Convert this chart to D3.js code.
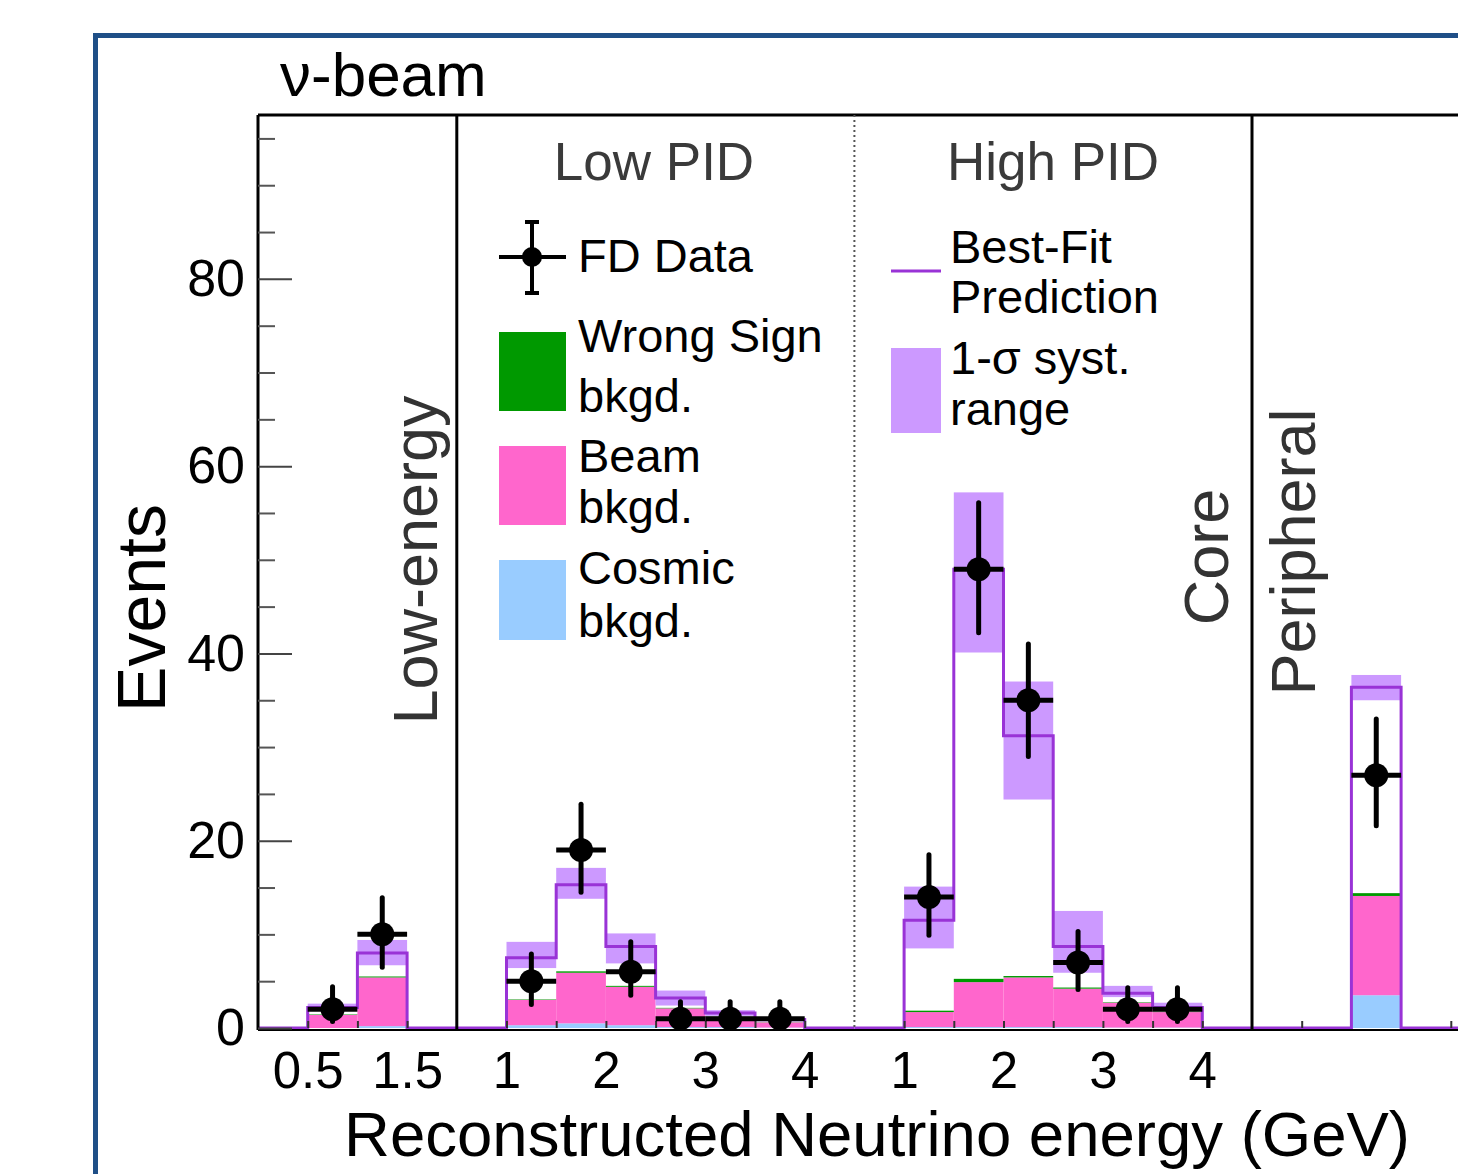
<!DOCTYPE html>
<html>
<head>
<meta charset="utf-8">
<script src="https://cdn.jsdelivr.net/npm/d3@7"></script>
<style>
  body { margin: 0; background: #fff; }
  svg { display: block; font-family: "Liberation Sans", Arial, Helvetica, sans-serif; }
</style>
</head>
<body>
<svg id="chart" width="1458" height="1174"></svg>
<script>
// ---- data (events per bin) ----

// Low-energy panel, bins in GeV
const leEdges = [0.5, 1.0, 1.5];
const leData = [2, 10];
const leErrHi = [2.4, 3.9];
const leErrLo = [1.3, 3.5];
const lePred = [2.2, 8.0];
const leBandHi = [2.6, 9.4];
const leBandLo = [1.9, 6.7];
const leCosmic = [0.0, 0.2];
const leBeam = [1.4, 5.2];
const leWrongSign = [0.05, 0.1];

// Core, low PID
const lowEdges = [1.0, 1.5, 2.0, 2.5, 3.0, 3.5, 4.0];
const lowData = [5, 19, 6, 1, 1, 1];
const lowErrHi = [2.9, 4.9, 3.2, 1.8, 1.8, 1.8];
const lowErrLo = [2.5, 4.5, 2.5, 0.85, 0.85, 0.85];
const lowPred = [7.5, 15.3, 8.7, 3.2, 1.6, 0.9];
const lowBandHi = [9.2, 17.1, 10.1, 4.0, 1.9, 1.1];
const lowBandLo = [6.4, 13.8, 6.9, 2.4, 1.3, 0.7];
const lowCosmic = [0.3, 0.5, 0.3, 0.1, 0.1, 0.05];
const lowBeam = [2.7, 5.4, 4.1, 2.0, 1.1, 0.55];
const lowWrongSign = [0.05, 0.15, 0.1, 0.05, 0.03, 0.02];

// Core, high PID
const highEdges = [1.0, 1.5, 2.0, 2.5, 3.0, 3.5, 4.0];
const highData = [14, 49, 35, 7, 2, 2];
const highErrHi = [4.5, 7.1, 6.0, 3.3, 2.3, 2.3];
const highErrLo = [4.1, 6.8, 6.0, 2.9, 1.3, 1.3];
const highPred = [11.5, 49.0, 31.2, 8.7, 3.7, 2.2];
const highBandHi = [15.1, 57.2, 37.0, 12.5, 4.5, 2.7];
const highBandLo = [8.5, 40.1, 24.4, 5.9, 3.3, 1.9];
const highCosmic = [0.1, 0.1, 0.1, 0.1, 0.05, 0.05];
const highBeam = [1.6, 4.8, 5.3, 4.1, 2.65, 1.65];
const highWrongSign = [0.15, 0.35, 0.15, 0.12, 0.05, 0.03];

// Peripheral, single bin
const periEdges = [1.0, 1.5];
const periData = [27];
const periErrHi = [6.0];
const periErrLo = [5.4];
const periPred = [36.4];
const periBandHi = [37.7];
const periBandLo = [35.0];
const periCosmic = [3.5];
const periBeam = [10.6];
const periWrongSign = [0.3];

// axis ticks / labels
const yMajor = [0, 20, 40, 60, 80];
const yMinor = d3.range(0, 96, 5);
const leTicks = [0.5, 1.0, 1.5];
const leLabels = [0.5, 1.5];
const pidTicks = [1.0, 1.5, 2.0, 2.5, 3.0, 3.5, 4.0];
const pidLabels = [1, 2, 3, 4];
const periTicks = [0.5, 2.0];

const colors = {
  cosmic: '#99ccff',
  beam: '#ff66cc',
  wrong: '#009900',
  band: '#cc99ff',
  pred: '#9933d6',
  frame: '#1f4f87'
};

const svg = d3.select('#chart');
svg.append('rect').attr('width', 1458).attr('height', 1174).attr('fill', '#fff');

// outer blue frame
svg.append('rect')
  .attr('x', 95.5).attr('y', 35.5)
  .attr('width', 1500).attr('height', 1300)
  .attr('fill', 'none')
  .attr('stroke', colors.frame)
  .attr('stroke-width', 5);

// global horizontal scale: panels laid side by side
const x = d3.scaleLinear().domain([0, 12]).range([258, 258 + 12 * 99.4]);
const y = d3.scaleLinear().domain([0, 97.5]).range([1028, 115]);

const panels = [
  { offset: 0, start: 0, end: 2, edges: leEdges, data: leData, errHi: leErrHi, errLo: leErrLo,
    pred: lePred, bandHi: leBandHi, bandLo: leBandLo, cosmic: leCosmic, beam: leBeam, wrong: leWrongSign,
    ticks: leTicks, labels: leLabels },
  { offset: 1.5, start: 2, end: 6, edges: lowEdges, data: lowData, errHi: lowErrHi, errLo: lowErrLo,
    pred: lowPred, bandHi: lowBandHi, bandLo: lowBandLo, cosmic: lowCosmic, beam: lowBeam, wrong: lowWrongSign,
    ticks: pidTicks, labels: pidLabels },
  { offset: 5.5, start: 6, end: 10, edges: highEdges, data: highData, errHi: highErrHi, errLo: highErrLo,
    pred: highPred, bandHi: highBandHi, bandLo: highBandLo, cosmic: highCosmic, beam: highBeam, wrong: highWrongSign,
    ticks: pidTicks, labels: pidLabels },
  { offset: 10, start: 10, end: 12.6, edges: periEdges, data: periData, errHi: periErrHi, errLo: periErrLo,
    pred: periPred, bandHi: periBandHi, bandLo: periBandLo, cosmic: periCosmic, beam: periBeam, wrong: periWrongSign,
    ticks: periTicks, labels: [] }
];

const plot = svg.append('g');

panels.forEach(p => {
  const px = e => x(e + p.offset);
  const bins = p.data.map((d, i) => ({
    x0: px(p.edges[i]), x1: px(p.edges[i + 1]),
    c: p.cosmic[i], b: p.beam[i], w: p.wrong[i],
    pred: p.pred[i], hi: p.bandHi[i], lo: p.bandLo[i],
    data: d, eh: p.errHi[i], el: p.errLo[i]
  }));

  // stacked backgrounds
  const g = plot.append('g');
  g.selectAll('.cos').data(bins).enter().append('rect')
    .attr('x', d => d.x0).attr('width', d => d.x1 - d.x0)
    .attr('y', d => y(d.c)).attr('height', d => y(0) - y(d.c))
    .attr('fill', colors.cosmic);
  g.selectAll('.beam').data(bins).enter().append('rect')
    .attr('x', d => d.x0).attr('width', d => d.x1 - d.x0)
    .attr('y', d => y(d.c + d.b)).attr('height', d => y(d.c) - y(d.c + d.b))
    .attr('fill', colors.beam);
  g.selectAll('.ws').data(bins).enter().append('rect')
    .attr('x', d => d.x0).attr('width', d => d.x1 - d.x0)
    .attr('y', d => y(d.c + d.b + d.w)).attr('height', d => y(d.c + d.b) - y(d.c + d.b + d.w))
    .attr('fill', colors.wrong);

  // 1-sigma band
  g.selectAll('.band').data(bins).enter().append('rect')
    .attr('x', d => d.x0).attr('width', d => d.x1 - d.x0)
    .attr('y', d => y(d.hi)).attr('height', d => y(d.lo) - y(d.hi))
    .attr('fill', colors.band);

  // best-fit step outline
  const pts = [[p.start, 0]];
  p.edges.slice(0, -1).forEach((e, i) => pts.push([e + p.offset, p.pred[i]]));
  pts.push([p.edges[p.edges.length - 1] + p.offset, 0]);
  pts.push([p.end, 0]);
  g.append('path')
    .datum(pts)
    .attr('d', d3.line().x(d => x(d[0])).y(d => y(d[1])).curve(d3.curveStepAfter))
    .attr('fill', 'none')
    .attr('stroke', colors.pred)
    .attr('stroke-width', 3);

  p.bins = bins;
});

// frame lines
const frame = svg.append('g').attr('stroke', '#000').attr('stroke-width', 3).attr('fill', 'none');
frame.append('line').attr('x1', 258).attr('x2', 1460).attr('y1', 115).attr('y2', 115);
frame.append('line').attr('x1', 258).attr('x2', 258).attr('y1', 115).attr('y2', 1030);
frame.append('line').attr('x1', 258).attr('x2', 1460).attr('y1', 1030).attr('y2', 1030).attr('stroke-width', 2);
[2, 10].forEach(u => {
  frame.append('line').attr('x1', x(u)).attr('x2', x(u)).attr('y1', 115).attr('y2', 1030);
});
svg.append('line')
  .attr('x1', x(6)).attr('x2', x(6)).attr('y1', 115).attr('y2', 1028)
  .attr('stroke', '#555').attr('stroke-width', 2).attr('stroke-dasharray', '2,3');

// y axis
const yAxis = svg.append('g').attr('transform', 'translate(258,0)')
  .call(d3.axisLeft(y).tickValues(yMajor).tickSize(-34).tickPadding(13).tickFormat(d3.format('d')));
yAxis.select('.domain').remove();
yAxis.selectAll('line').attr('stroke', '#444').attr('stroke-width', 2);
yAxis.selectAll('text').attr('font-size', 52).attr('fill', '#000');
const yMinorAxis = svg.append('g').attr('transform', 'translate(258,0)')
  .call(d3.axisLeft(y).tickValues(yMinor.filter(v => !yMajor.includes(v))).tickSize(-17).tickFormat(''));
yMinorAxis.select('.domain').remove();
yMinorAxis.selectAll('line').attr('stroke', '#555').attr('stroke-width', 2);

// x axes, one per panel
panels.forEach(p => {
  const sc = d3.scaleLinear().domain([p.start - p.offset, p.end - p.offset]).range([x(p.start), x(p.end)]);
  const tk = svg.append('g').attr('transform', 'translate(0,1028)')
    .call(d3.axisBottom(sc).tickValues(p.ticks).tickSize(-7).tickFormat(''));
  tk.select('.domain').remove();
  tk.selectAll('line').attr('stroke', '#333').attr('stroke-width', 2);
  const lb = svg.append('g').attr('transform', 'translate(0,1028)')
    .call(d3.axisBottom(sc).tickValues(p.labels).tickSize(0).tickPadding(24).tickFormat(d => String(d)));
  lb.select('.domain').remove();
  lb.selectAll('text').attr('font-size', 51).attr('fill', '#000');
});

// data points
panels.forEach(p => {
  const g = svg.append('g');
  p.bins.forEach(d => {
    const cx = (d.x0 + d.x1) / 2;
    g.append('line').attr('x1', d.x0).attr('x2', d.x1).attr('y1', y(d.data)).attr('y2', y(d.data))
      .attr('stroke', '#000').attr('stroke-width', 5);
    g.append('line').attr('x1', cx).attr('x2', cx).attr('y1', y(d.data + d.eh)).attr('y2', y(d.data - d.el))
      .attr('stroke', '#000').attr('stroke-width', 5).attr('stroke-linecap', 'round');
    g.append('circle').attr('cx', cx).attr('cy', y(d.data)).attr('r', 12).attr('fill', '#000');
  });
});

// texts
svg.append('text').attr('x', 280).attr('y', 96).attr('font-size', 62).text('ν-beam');
svg.append('text').attr('x', 654).attr('y', 180).attr('font-size', 53).attr('fill', '#3a3a3a')
  .attr('text-anchor', 'middle').text('Low PID');
svg.append('text').attr('x', 1053).attr('y', 180).attr('font-size', 53).attr('fill', '#3a3a3a')
  .attr('text-anchor', 'middle').text('High PID');

const rot = (txt, bx, cy) => svg.append('text')
  .attr('transform', `translate(${bx},${cy}) rotate(-90)`)
  .attr('text-anchor', 'middle').attr('font-size', 63).attr('fill', '#333').text(txt);
rot('Low-energy', 437, 560);
rot('Core', 1228, 557);
rot('Peripheral', 1315, 552);

svg.append('text')
  .attr('transform', 'translate(165,608) rotate(-90)')
  .attr('text-anchor', 'middle').attr('font-size', 68).text('Events');
svg.append('text').attr('x', 1410).attr('y', 1156).attr('text-anchor', 'end')
  .attr('font-size', 63.5).text('Reconstructed Neutrino energy (GeV)');

// legend (left column)
const leg = svg.append('g').attr('font-size', 47);
leg.append('line').attr('x1', 499).attr('x2', 566).attr('y1', 257).attr('y2', 257).attr('stroke', '#000').attr('stroke-width', 4);
leg.append('line').attr('x1', 532).attr('x2', 532).attr('y1', 222).attr('y2', 293).attr('stroke', '#000').attr('stroke-width', 4);
[222, 293].forEach(v => leg.append('line').attr('x1', 525).attr('x2', 539).attr('y1', v).attr('y2', v)
  .attr('stroke', '#000').attr('stroke-width', 4));
leg.append('circle').attr('cx', 532).attr('cy', 257).attr('r', 10);
leg.append('text').attr('x', 578).attr('y', 272).text('FD Data');

const swatches = [
  { color: colors.wrong, y0: 332, y1: 411, lines: ['Wrong Sign', 'bkgd.'], base: [352, 412] },
  { color: colors.beam, y0: 446, y1: 525, lines: ['Beam', 'bkgd.'], base: [472, 523] },
  { color: colors.cosmic, y0: 560, y1: 640, lines: ['Cosmic', 'bkgd.'], base: [584, 637] }
];
swatches.forEach(s => {
  leg.append('rect').attr('x', 499).attr('y', s.y0).attr('width', 67).attr('height', s.y1 - s.y0).attr('fill', s.color);
  s.lines.forEach((t, i) => leg.append('text').attr('x', 578).attr('y', s.base[i]).text(t));
});

// legend (right column)
leg.append('line').attr('x1', 891).attr('x2', 941).attr('y1', 271).attr('y2', 271)
  .attr('stroke', colors.pred).attr('stroke-width', 3);
leg.append('text').attr('x', 950).attr('y', 263).text('Best-Fit');
leg.append('text').attr('x', 950).attr('y', 313).text('Prediction');
leg.append('rect').attr('x', 891).attr('y', 348).attr('width', 50).attr('height', 85).attr('fill', colors.band);
leg.append('text').attr('x', 950).attr('y', 374).text('1-σ syst.');
leg.append('text').attr('x', 950).attr('y', 425).text('range');
</script>
</body>
</html>
